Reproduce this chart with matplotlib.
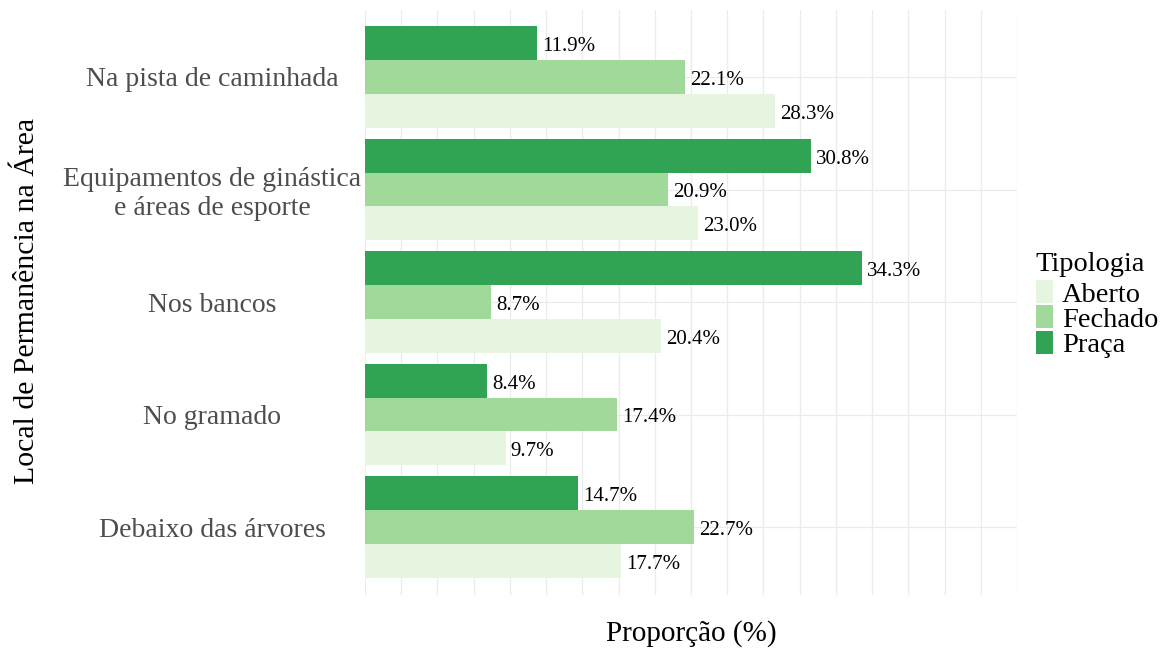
import matplotlib
matplotlib.use("Agg")
import matplotlib.pyplot as plt
from matplotlib.patches import Rectangle
import numpy as np

categories = ["Na pista de caminhada", "Equipamentos de ginástica\ne áreas de esporte",
              "Nos bancos", "No gramado", "Debaixo das árvores"]
series = ["Aberto", "Fechado", "Praça"]
aberto = [28.3, 23.0, 20.4, 9.7, 17.7]
fechado = [22.1, 20.9, 8.7, 17.4, 22.7]
praca = [11.9, 30.8, 34.3, 8.4, 14.7]
colors = {"Aberto": "#e5f5e0", "Fechado": "#a1d99b", "Praça": "#31a354"}

plt.rcParams['font.family'] = ['Liberation Serif', 'DejaVu Serif']

W, H = 1166, 649
fig = plt.figure(figsize=(W / 100, H / 100), dpi=100)
ax = fig.add_axes([365 / W, 1 - 594.5 / H, (1017 - 365) / W, (594.5 - 9.5) / H])

y = np.arange(len(categories))
h = 0.3
vals = {"Aberto": aberto, "Fechado": fechado, "Praça": praca}
offsets = {"Praça": -h, "Fechado": 0.0, "Aberto": h}
for s in ["Praça", "Fechado", "Aberto"]:
    ax.barh(y + offsets[s], vals[s], height=h, color=colors[s], label=s, zorder=2)
    for yi, v in zip(y, vals[s]):
        ax.text(v + 0.35, yi + offsets[s] + 0.03, f"{v:.1f}%", ha="left", va="center",
                fontsize=15, color="black", zorder=3)

ax.set_xlim(0, 45)
ax.set_ylim(len(categories) - 0.4, -0.6)
ax.set_xticks(np.arange(0, 45.1, 2.5))
ax.set_xticklabels([])
ax.set_yticks(y)
ax.set_yticklabels(categories, ha="center", fontsize=20, color="#4d4d4d", linespacing=1.2)
ax.tick_params(axis="y", length=0, pad=(365 - 212) * 0.72)
ax.tick_params(axis="x", length=0)
ax.grid(True, color="#ebebeb", linewidth=0.9, zorder=0)
ax.set_axisbelow(True)
for sp in ax.spines.values():
    sp.set_visible(False)

fig.text(27 / W, 1 - 301 / H, "Local de Permanência na Área", rotation=90,
         ha="center", va="center", fontsize=21.5, color="black")
fig.text(691 / W, 1 - 634 / H, "Proporção (%)", ha="center", va="center",
         fontsize=21, color="black")

# legend (Tipologia)
fig.text(1035 / W, 1 - 262 / H, "Tipologia", ha="left", va="center_baseline",
         fontsize=20.4, color="black")
row_y = [291.5, 316.5, 342.0]
for s, ry in zip(series, row_y):
    fig.patches.append(Rectangle((1036 / W, 1 - (ry + 11.5) / H), 17 / W, 23 / H,
                                 transform=fig.transFigure, facecolor=colors[s],
                                 edgecolor="none"))
    fig.text(1062 / W, 1 - (ry + 1) / H, s, ha="left", va="center_baseline",
             fontsize=20.4, color="black")

fig.savefig("out.png", dpi=100)
